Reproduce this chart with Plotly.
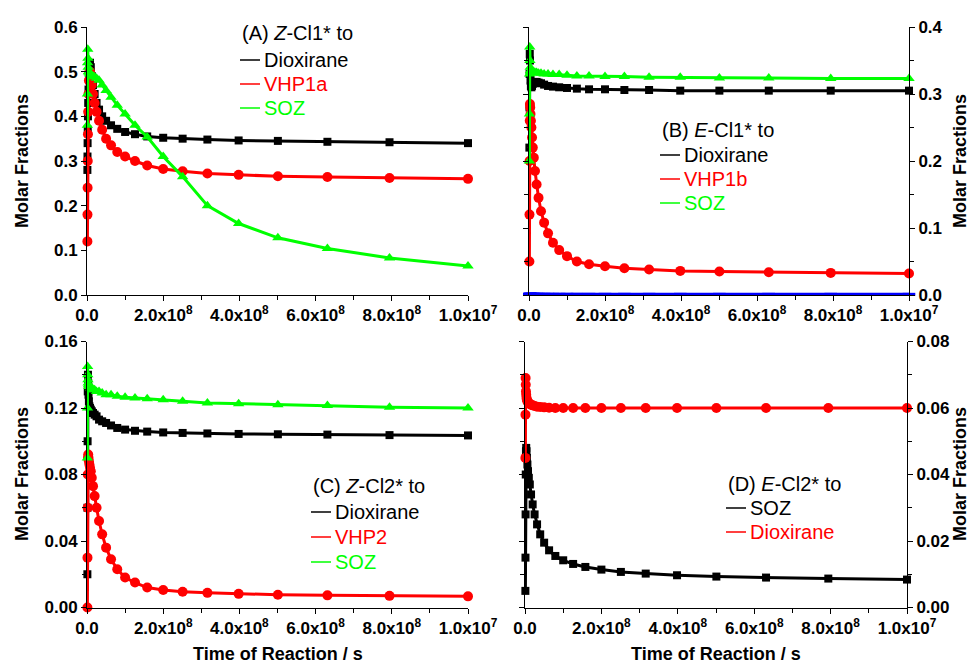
import plotly.graph_objects as go

W, H = 975, 670

# Sampling times (s), logarithmically spaced
t = [1.0e-10, 1.26e-10, 1.58e-10, 2.0e-10, 2.51e-10, 3.16e-10, 3.98e-10, 5.01e-10, 6.31e-10, 7.94e-10,
     1.0e-9, 1.26e-9, 1.58e-9, 2.0e-9, 2.51e-9, 3.16e-9, 3.98e-9, 5.01e-9, 6.31e-9, 7.94e-9,
     1.0e-8, 1.26e-8, 1.58e-8, 2.0e-8, 2.51e-8, 3.16e-8, 3.98e-8, 5.01e-8, 6.31e-8, 7.94e-8, 1.0e-7]

# (A) Z-Cl1*
a_dioxirane = [0.28, 0.31, 0.34, 0.37, 0.40, 0.43, 0.46, 0.49, 0.51, 0.52,
               0.51, 0.49, 0.47, 0.45, 0.43, 0.415, 0.40, 0.39, 0.38, 0.372,
               0.365, 0.36, 0.355, 0.352, 0.35, 0.348, 0.346, 0.345, 0.343, 0.342, 0.340]
a_vhp1a = [0.12, 0.18, 0.24, 0.30, 0.36, 0.41, 0.45, 0.48, 0.50, 0.50,
           0.49, 0.47, 0.45, 0.43, 0.41, 0.39, 0.37, 0.35, 0.335, 0.32,
           0.31, 0.30, 0.29, 0.282, 0.277, 0.272, 0.269, 0.266, 0.264, 0.262, 0.260]
a_soz = [0.38, 0.45, 0.52, 0.55, 0.53, 0.51, 0.50, 0.50, 0.497, 0.495,
         0.494, 0.492, 0.49, 0.488, 0.485, 0.481, 0.47, 0.458, 0.443, 0.425,
         0.405, 0.38, 0.354, 0.31, 0.265, 0.20, 0.16, 0.128, 0.104, 0.083, 0.065]

# (B) E-Cl1*
b_dioxirane = [0.22, 0.28, 0.33, 0.36, 0.35, 0.33, 0.32, 0.312, 0.31, 0.312,
               0.315, 0.317, 0.318, 0.318, 0.317, 0.316, 0.314, 0.312, 0.311, 0.31,
               0.309, 0.308, 0.307, 0.307, 0.306, 0.306, 0.305, 0.305, 0.305, 0.305, 0.305]
b_vhp1b = [0.05, 0.12, 0.20, 0.26, 0.285, 0.28, 0.27, 0.26, 0.25, 0.235,
           0.22, 0.205, 0.185, 0.165, 0.145, 0.125, 0.108, 0.092, 0.078, 0.067,
           0.058, 0.050, 0.046, 0.043, 0.040, 0.038, 0.036, 0.035, 0.034, 0.033, 0.032]
b_soz = [0.20, 0.27, 0.33, 0.37, 0.35, 0.34, 0.335, 0.334, 0.334, 0.333,
         0.333, 0.333, 0.332, 0.332, 0.331, 0.331, 0.330, 0.330, 0.329, 0.329,
         0.328, 0.327, 0.327, 0.326, 0.326, 0.325, 0.325, 0.324, 0.324, 0.323, 0.323]
b_other = [0.001, 0.001, 0.001, 0.001, 0.001, 0.001, 0.001, 0.001, 0.001, 0.001,
           0.001, 0.001, 0.001, 0.001, 0.001, 0.001, 0.001, 0.001, 0.001, 0.001,
           0.001, 0.001, 0.001, 0.001, 0.001, 0.001, 0.001, 0.001, 0.001, 0.001, 0.001]

# (C) Z-Cl2*
c_dioxirane = [0.02, 0.06, 0.10, 0.13, 0.14, 0.135, 0.128, 0.124, 0.121, 0.12,
               0.119, 0.118, 0.117, 0.116, 0.115, 0.113, 0.112, 0.111, 0.1095, 0.108,
               0.107, 0.1063, 0.1058, 0.1053, 0.105, 0.1047, 0.1044, 0.1042, 0.104, 0.1037, 0.1035]
c_vhp2 = [0.0, 0.03, 0.06, 0.08, 0.09, 0.092, 0.09, 0.088, 0.086, 0.084,
          0.082, 0.078, 0.073, 0.067, 0.060, 0.052, 0.044, 0.036, 0.029, 0.023,
          0.018, 0.015, 0.012, 0.0105, 0.0095, 0.0088, 0.0082, 0.0077, 0.0073, 0.0070, 0.0067]
c_soz = [0.09, 0.12, 0.145, 0.14, 0.137, 0.135, 0.134, 0.133, 0.133, 0.133,
         0.132, 0.132, 0.131, 0.131, 0.130, 0.130, 0.129, 0.128, 0.128, 0.127,
         0.1265, 0.126, 0.1255, 0.125, 0.124, 0.123, 0.1225, 0.122, 0.1215, 0.1205, 0.120]

# (D) E-Cl2*
d_soz = [0.005, 0.015, 0.028, 0.040, 0.047, 0.048, 0.047, 0.045, 0.043, 0.041,
         0.039, 0.037, 0.034, 0.031, 0.028, 0.025, 0.022, 0.0195, 0.0172, 0.0155,
         0.0142, 0.0131, 0.0122, 0.0114, 0.0107, 0.0102, 0.0097, 0.0093, 0.0090, 0.0087, 0.0084]
d_dioxirane = [0.045, 0.058, 0.069, 0.067, 0.065, 0.064, 0.063, 0.0625, 0.062, 0.0618,
               0.0615, 0.0612, 0.061, 0.0608, 0.0606, 0.0604, 0.0603, 0.0602, 0.0601, 0.060,
               0.060, 0.060, 0.060, 0.060, 0.060, 0.060, 0.060, 0.060, 0.060, 0.060, 0.060]

x_tick_vals = [0, 2e-8, 4e-8, 6e-8, 8e-8, 1e-7]
x_tick_text = ["0.0", "2.0x10<sup>8</sup>", "4.0x10<sup>8</sup>", "6.0x10<sup>8</sup>",
               "8.0x10<sup>8</sup>", "1.0x10<sup>7</sup>"]

BLACK, RED, GREEN, BLUE = "#000000", "#ff0000", "#00ff00", "#0000ff"
FONT = "Liberation Sans, Arial, sans-serif"


def px(x):
    return x / W


def py(y):
    return 1 - y / H


def series(y, color, symbol, xa, ya, size=10):
    return go.Scatter(x=t, y=y, xaxis=xa, yaxis=ya, mode="lines+markers",
                      line=dict(color=color, width=3),
                      marker=dict(symbol=symbol, size=size, color=color),
                      cliponaxis=False, showlegend=False, hoverinfo="skip")


fig = go.Figure()
fig.add_trace(series(a_dioxirane, BLACK, "square", "x", "y", 8))
fig.add_trace(series(a_vhp1a, RED, "circle", "x", "y", 10))
fig.add_trace(series(a_soz, GREEN, "triangle-up", "x", "y", 10))

fig.add_trace(series(b_other, BLUE, "line-ew", "x2", "y2", 9))
fig.data[-1].marker.line = dict(color=BLUE, width=3)
fig.add_trace(series(b_dioxirane, BLACK, "square", "x2", "y2", 8))
fig.add_trace(series(b_vhp1b, RED, "circle", "x2", "y2", 10))
fig.add_trace(series(b_soz, GREEN, "triangle-up", "x2", "y2", 10))

fig.add_trace(series(c_dioxirane, BLACK, "square", "x3", "y3", 8))
fig.add_trace(series(c_vhp2, RED, "circle", "x3", "y3", 10))
fig.add_trace(series(c_soz, GREEN, "triangle-up", "x3", "y3", 10))

fig.add_trace(series(d_soz, BLACK, "square", "x4", "y4", 8))
fig.add_trace(series(d_dioxirane, RED, "circle", "x4", "y4", 10))

tickfont = dict(family=FONT, size=17, color="black", weight="bold")


def xaxis(domain, anchor):
    return dict(domain=domain, anchor=anchor, range=[0, 1e-7], automargin=False,
                tickmode="array", tickvals=x_tick_vals, ticktext=x_tick_text,
                ticks="outside", ticklen=5, tickwidth=1, tickcolor="black",
                showline=True, linecolor="black", linewidth=1,
                showgrid=False, zeroline=False, tickfont=tickfont,
                minor=dict(tickmode="linear", tick0=0, dtick=1e-8, ticks="outside",
                           ticklen=4, tickwidth=1, tickcolor="black", showgrid=False))


def yaxis(domain, anchor, top, step, fmt, side, minor_step=None):
    cfg = dict(domain=domain, anchor=anchor, range=[0, top], side=side, automargin=False,
               tickmode="linear", tick0=0, dtick=step, tickformat=fmt,
               ticks="outside", ticklen=5, tickwidth=1, tickcolor="black",
               showline=True, linecolor="black", linewidth=1,
               showgrid=False, zeroline=False, tickfont=tickfont)
    if side == "right":
        cfg["mirror"] = "ticks"
    if minor_step:
        cfg["minor"] = dict(tickmode="linear", tick0=0, dtick=minor_step, ticks="outside",
                            ticklen=4, tickwidth=1, tickcolor="black", showgrid=False)
    return cfg


top_row = [py(295), py(27)]
bot_row = [py(607.5), py(341.5)]
left_col = [px(87), px(468)]
right_col_b = [px(529), px(909)]
right_col_d = [px(525), px(907)]

fig.update_layout(
    template="none",
    width=W, height=H,
    margin=dict(l=0, r=0, t=0, b=0, pad=0, autoexpand=False),
    paper_bgcolor="white", plot_bgcolor="white",
    font=dict(family=FONT, color="black"),
    showlegend=False,
    xaxis=xaxis(left_col, "y"),
    yaxis=yaxis(top_row, "x", 0.6, 0.1, ".1f", "left"),
    xaxis2=xaxis(right_col_b, "y2"),
    yaxis2=yaxis(top_row, "x2", 0.4, 0.1, ".1f", "right", 0.05),
    xaxis3=xaxis(left_col, "y3"),
    yaxis3=yaxis(bot_row, "x3", 0.16, 0.04, ".2f", "left", 0.02),
    xaxis4=xaxis(right_col_d, "y4"),
    yaxis4=yaxis(bot_row, "x4", 0.08, 0.02, ".2f", "right", 0.01),
)

annotations = []
shapes = []
title_font = dict(family=FONT, size=18, color="black", weight="bold")

# axis titles
for xc, yc in [(22, 161), (22, 474), (960, 161), (960, 474)]:
    annotations.append(dict(x=px(xc), y=py(yc), xref="paper", yref="paper", text="Molar Fractions",
                            textangle=-90, showarrow=False, font=title_font,
                            xanchor="center", yanchor="middle"))
for xc in [278, 716]:
    annotations.append(dict(x=px(xc), y=py(654), xref="paper", yref="paper",
                            text="Time of Reaction / s", showarrow=False, font=title_font,
                            xanchor="center", yanchor="middle"))

# in-panel keys
key_font = 20


def key_block(left, header_y, header, rows):
    annotations.append(dict(x=px(left), y=py(header_y), xref="paper", yref="paper",
                            text=header, showarrow=False, xanchor="left", yanchor="middle",
                            font=dict(family=FONT, size=key_font, color="black")))
    for (label, color, yrow) in rows:
        shapes.append(dict(type="line", xref="paper", yref="paper",
                           x0=px(left), x1=px(left + 20), y0=py(yrow), y1=py(yrow),
                           line=dict(color=color, width=1.5)))
        annotations.append(dict(x=px(left + 22), y=py(yrow), xref="paper", yref="paper",
                                text=label, showarrow=False, xanchor="left", yanchor="middle",
                                font=dict(family=FONT, size=key_font, color=color)))


key_block(240, 33, "(A) <i>Z</i>-Cl1* to",
          [("Dioxirane", BLACK, 60), ("VHP1a", RED, 84), ("SOZ", GREEN, 108)])
key_block(660, 130, "(B) <i>E</i>-Cl1* to",
          [("Dioxirane", BLACK, 155), ("VHP1b", RED, 179), ("SOZ", GREEN, 203)])
key_block(311, 486, "(C) <i>Z</i>-Cl2* to",
          [("Dioxirane", BLACK, 512), ("VHP2", RED, 537), ("SOZ", GREEN, 562)])
key_block(726, 484, "(D) <i>E</i>-Cl2* to",
          [("SOZ", BLACK, 508), ("Dioxirane", RED, 532)])

fig.update_layout(annotations=annotations, shapes=shapes)

fig.write_html("out.html")
